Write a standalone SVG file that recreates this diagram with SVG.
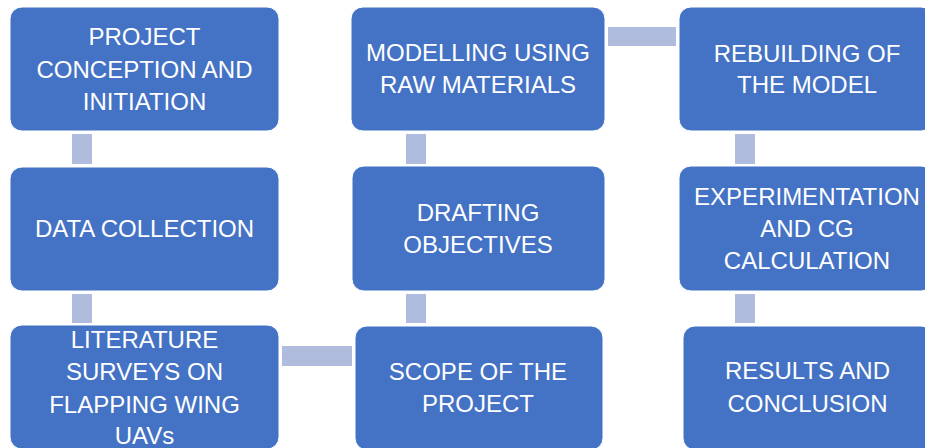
<svg xmlns="http://www.w3.org/2000/svg" width="925" height="448" viewBox="0 0 925 448">
  <style>
    .box { fill: #4472C4; stroke: #ffffff; stroke-width: 1; }
    .bar { fill: #B0BCDE; }
    .lbl { fill: #ffffff; font-family: "Liberation Sans", Arial, sans-serif; font-size: 24px; text-anchor: middle; }
  </style>
  <rect width="925" height="448" fill="#ffffff"/>

  <!-- connectors -->
  <g id="connectors">
    <rect class="bar" x="72" y="134" width="20" height="30"/>
    <rect class="bar" x="72" y="294" width="20" height="29"/>
    <rect class="bar" x="282" y="346" width="70" height="20"/>
    <rect class="bar" x="406" y="294" width="20" height="29"/>
    <rect class="bar" x="406" y="134" width="20" height="30"/>
    <rect class="bar" x="608" y="27" width="68" height="19"/>
    <rect class="bar" x="735" y="134" width="20" height="30"/>
    <rect class="bar" x="735" y="294" width="20" height="29"/>
  </g>

  <g id="project-conception">
    <rect class="box" x="10" y="7" width="269" height="124" rx="12"/>
    <text class="lbl" x="144.5" y="45">PROJECT</text>
    <text class="lbl" x="144.5" y="77.5">CONCEPTION AND</text>
    <text class="lbl" x="144.5" y="110">INITIATION</text>
  </g>

  <g id="data-collection">
    <rect class="box" x="10" y="167" width="269" height="124" rx="12"/>
    <text class="lbl" x="144.5" y="237">DATA COLLECTION</text>
  </g>

  <g id="literature-surveys">
    <rect class="box" x="10" y="325" width="269" height="124" rx="12"/>
    <text class="lbl" x="144.5" y="347.5">LITERATURE</text>
    <text class="lbl" x="144.5" y="380">SURVEYS ON</text>
    <text class="lbl" x="144.5" y="412.5">FLAPPING WING</text>
    <text class="lbl" x="144.5" y="444">UAVs</text>
  </g>

  <g id="scope">
    <rect class="box" x="355" y="326" width="248" height="124" rx="12"/>
    <text class="lbl" x="478" y="380">SCOPE OF THE</text>
    <text class="lbl" x="478" y="412">PROJECT</text>
  </g>

  <g id="drafting-objectives">
    <rect class="box" x="352" y="166" width="253" height="125" rx="12"/>
    <text class="lbl" x="478" y="221">DRAFTING</text>
    <text class="lbl" x="478" y="252.5">OBJECTIVES</text>
  </g>

  <g id="modelling">
    <rect class="box" x="351" y="7" width="254" height="124" rx="12"/>
    <text class="lbl" x="478" y="61">MODELLING USING</text>
    <text class="lbl" x="478" y="93">RAW MATERIALS</text>
  </g>

  <g id="rebuilding">
    <rect class="box" x="679" y="7" width="254" height="124" rx="12"/>
    <text class="lbl" x="807" y="62">REBUILDING OF</text>
    <text class="lbl" x="807" y="93">THE MODEL</text>
  </g>

  <g id="experimentation">
    <rect class="box" x="679" y="166" width="254" height="125" rx="12"/>
    <text class="lbl" x="807" y="205">EXPERIMENTATION</text>
    <text class="lbl" x="807" y="237">AND CG</text>
    <text class="lbl" x="807" y="269">CALCULATION</text>
  </g>

  <g id="results">
    <rect class="box" x="683" y="326" width="250" height="124" rx="12"/>
    <text class="lbl" x="807.5" y="379">RESULTS AND</text>
    <text class="lbl" x="807.5" y="412">CONCLUSION</text>
  </g>
</svg>
